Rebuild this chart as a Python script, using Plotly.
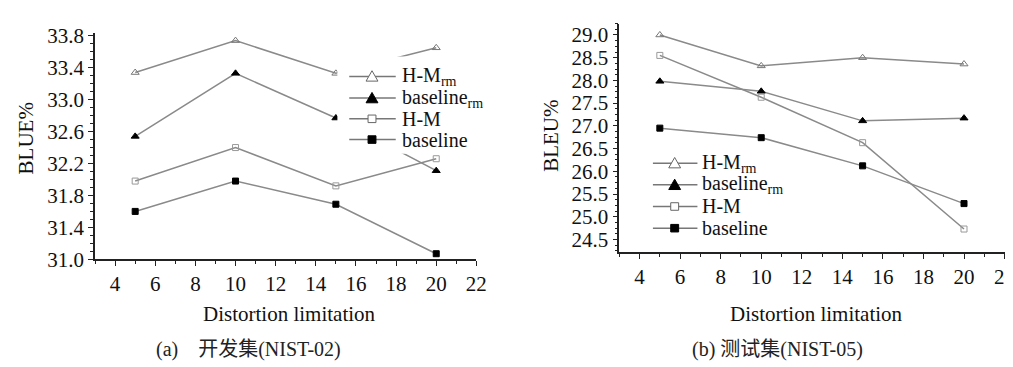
import plotly.graph_objects as go

# ---------------- data ----------------
x_limit = [5, 10, 15, 20]

# (a) NIST-02
dev_hm_rm = [33.34, 33.74, 33.33, 33.65]
dev_base_rm = [32.54, 33.33, 32.77, 32.11]
dev_hm = [31.98, 32.40, 31.92, 32.26]
dev_base = [31.60, 31.98, 31.69, 31.07]

# (b) NIST-05
test_hm_rm = [29.00, 28.32, 28.50, 28.36]
test_base_rm = [27.98, 27.76, 27.11, 27.17]
test_hm = [28.55, 27.63, 26.63, 24.73]
test_base = [26.95, 26.74, 26.12, 25.29]

series_names = ["H-M<sub>rm</sub>", "baseline<sub>rm</sub>", "H-M", "baseline"]
x_title = "Distortion limitation"
y_titles = ["BLUE%", "BLEU%"]
captions = ["(a)\u00a0\u00a0\u00a0\u00a0开发集(NIST-02)", "(b)\u00a0测试集(NIST-05)"]

# ---------------- styles ----------------
LINE = "#8a8a8a"
FONT = "Liberation Serif"
CJK_FONT = "Liberation Serif, Noto Sans CJK SC"
styles = [
    dict(symbol="triangle-up-open", size=7, color="#777777", kind="tri", filled=False),
    dict(symbol="triangle-up", size=7, color="#000000", kind="tri", filled=True),
    dict(symbol="square-open", size=6, color="#999999", kind="sq", filled=False),
    dict(symbol="square", size=6, color="#000000", kind="sq", filled=True),
]

W, H = 1013, 367


def px_x(p):
    return p / W


def px_y(p):
    return 1 - p / H


fig = go.Figure()

panels = [
    ([dev_hm_rm, dev_base_rm, dev_hm, dev_base], "x", "y"),
    ([test_hm_rm, test_base_rm, test_hm, test_base], "x2", "y2"),
]

for data, xa, ya in panels:
    for vals, name, st in zip(data, series_names, styles):
        fig.add_trace(go.Scatter(
            x=x_limit, y=vals, mode="lines+markers", name=name,
            xaxis=xa, yaxis=ya, showlegend=False,
            line=dict(color=LINE, width=1.5),
            marker=dict(symbol=st["symbol"], size=st["size"], color=st["color"],
                        line=dict(color=st["color"], width=1)),
        ))

TICK_FONT = dict(family=FONT, size=21, color="#111")
common_x = dict(
    range=[3, 22], tick0=0, dtick=2, ticks="outside", ticklen=5, tickwidth=1.2,
    tickcolor="#222", showline=True, linecolor="#222", linewidth=1.5,
    showgrid=False, zeroline=False, tickfont=TICK_FONT,
    minor=dict(dtick=1, ticks="outside", ticklen=3, tickcolor="#222", tickwidth=1, showgrid=False),
)
common_y = dict(
    ticks="outside", ticklen=5, tickwidth=1.2, tickcolor="#222",
    showline=True, linecolor="#222", linewidth=1.5, showgrid=False, zeroline=False,
    tickfont=TICK_FONT, tickformat=".1f",
)

fig.update_layout(
    width=W, height=H, autosize=False,
    margin=dict(l=0, r=0, t=0, b=0),
    paper_bgcolor="white", plot_bgcolor="white",
    font=dict(family=FONT, size=20, color="#111"),
    showlegend=False,
    xaxis=dict(domain=[px_x(88), px_x(473.5)], anchor="y", **common_x),
    xaxis2=dict(domain=[px_x(618), px_x(1007.5)], anchor="y2", **common_x),
    yaxis=dict(domain=[px_y(257), px_y(17)], anchor="x", range=[31.0, 33.835],
               tick0=31.0, dtick=0.4,
               minor=dict(dtick=0.1, tick0=31.0, ticks="outside", ticklen=3, tickcolor="#222", tickwidth=1, showgrid=False),
               **common_y),
    yaxis2=dict(domain=[px_y(249), px_y(7)], anchor="x2", range=[24.23, 29.25],
                tick0=24.5, dtick=0.5,
                minor=dict(dtick=0.125, tick0=24.5, ticks="outside", ticklen=3, tickcolor="#222", tickwidth=1, showgrid=False),
                **common_y),
)

TITLE_FONT = dict(family=FONT, size=21, color="#111")
CAP_FONT = dict(family=CJK_FONT, size=20, color="#222")
annotations = [
    dict(text=x_title, x=px_x(195), y=px_y(315), xanchor="left", font=TITLE_FONT),
    dict(text=x_title, x=px_x(728), y=px_y(315), xanchor="left", font=TITLE_FONT),
    dict(text=y_titles[0], x=px_x(18), y=px_y(129), xanchor="center", textangle=-90, font=TITLE_FONT),
    dict(text=y_titles[1], x=px_x(549), y=px_y(126), xanchor="center", textangle=-90, font=TITLE_FONT),
    dict(text=captions[0], x=px_x(148), y=px_y(353), xanchor="left", font=CAP_FONT),
    dict(text=captions[1], x=px_x(689), y=px_y(353), xanchor="left", font=CAP_FONT),
]
for a in annotations:
    a.update(xref="paper", yref="paper", yanchor="middle", showarrow=False)

# ---------------- manual legends (spacing matches the original) ----------------
shapes = []
legend_specs = [
    # (rows y px, line x0, line x1, marker cx, text x, white box)
    ([63, 86, 108, 130], 345, 392, 368, 396, (333, 42, 492, 145)),
    ([155, 178, 201, 224], 652, 697, 674, 700, None),
]
for rows, lx0, lx1, mcx, tx, box in legend_specs:
    if box is not None:
        shapes.append(dict(type="rect", xref="paper", yref="paper",
                           x0=px_x(box[0]), x1=px_x(box[2]), y0=px_y(box[3]), y1=px_y(box[1]),
                           fillcolor="white", line=dict(width=0), layer="above"))
    for ry, name, st in zip(rows, series_names, styles):
        shapes.append(dict(type="line", xref="paper", yref="paper",
                           x0=px_x(lx0), x1=px_x(lx1), y0=px_y(ry), y1=px_y(ry),
                           line=dict(color="#777777", width=1.5), layer="above"))
        fill = "#000000" if st["filled"] else "white"
        edge = "#000000" if st["filled"] else "#666666"
        if st["kind"] == "tri":
            p = "M {:.5f} {:.5f} L {:.5f} {:.5f} L {:.5f} {:.5f} Z".format(
                px_x(mcx - 6), px_y(ry + 5), px_x(mcx + 6), px_y(ry + 5), px_x(mcx), px_y(ry - 6))
            shapes.append(dict(type="path", xref="paper", yref="paper", path=p,
                               fillcolor=fill, line=dict(color=edge, width=1), layer="above"))
        else:
            shapes.append(dict(type="rect", xref="paper", yref="paper",
                               x0=px_x(mcx - 4), x1=px_x(mcx + 4), y0=px_y(ry + 4), y1=px_y(ry - 4),
                               fillcolor=fill, line=dict(color=edge, width=1), layer="above"))
        annotations.append(dict(text=name, x=px_x(tx), y=px_y(ry), xref="paper", yref="paper",
                                xanchor="left", yanchor="middle", showarrow=False,
                                font=dict(family=FONT, size=20, color="#111")))

fig.update_layout(annotations=annotations, shapes=shapes)

fig.write_html("out.html")
